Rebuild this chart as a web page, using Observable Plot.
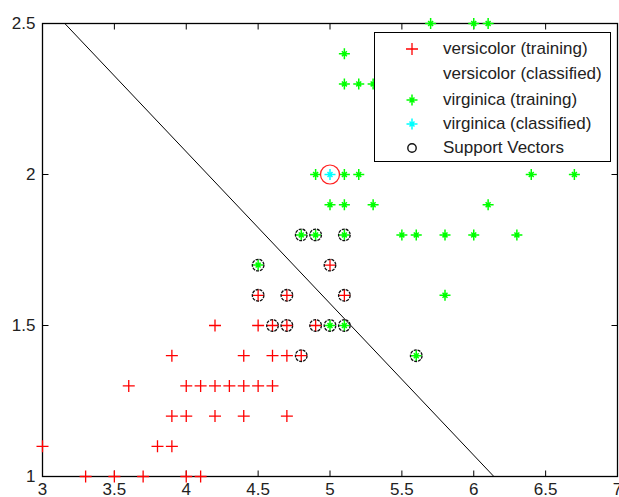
<!DOCTYPE html>
<html>
<head>
<meta charset="utf-8">
<script src="https://cdn.jsdelivr.net/npm/d3@7"></script>
<script src="https://cdn.jsdelivr.net/npm/@observablehq/plot@0.6"></script>
<style>
  html, body { margin: 0; padding: 0; background: #fff; }
  #wrap { position: relative; width: 619px; height: 497px; overflow: hidden; }
  #legend {
    position: absolute; left: 374px; top: 32px; width: 235px; height: 128px;
    background: #fff; border: 1px solid #000;
    font-family: "Liberation Sans", Arial, sans-serif; font-size: 17px; color: #222;
  }
  .row { position: absolute; left: 0; height: 24px; line-height: 24px; white-space: nowrap; }
  .row svg { position: absolute; left: 27px; top: 2px; }
  .row span { position: absolute; left: 68px; top: 0; }
</style>
</head>
<body>
<div id="wrap"></div>
<script>
// ---- data ----
const versicolorX = [3.0, 3.3, 3.5, 3.7, 4.0, 4.1, 3.8, 3.9, 3.9, 4.0, 4.2, 4.4, 4.7, 3.6, 4.0, 4.1, 4.2, 4.3, 4.4, 4.5, 4.6, 3.9, 4.4, 4.6, 4.7, 4.8, 4.2, 4.5, 4.6, 4.7, 4.9, 4.5, 4.7, 5.1, 5.0];
const versicolorY = [1.1, 1.0, 1.0, 1.0, 1.0, 1.0, 1.1, 1.1, 1.2, 1.2, 1.2, 1.2, 1.2, 1.3, 1.3, 1.3, 1.3, 1.3, 1.3, 1.3, 1.3, 1.4, 1.4, 1.4, 1.4, 1.4, 1.5, 1.5, 1.5, 1.5, 1.5, 1.6, 1.6, 1.6, 1.7];

const virginicaX = [5.7, 6.0, 6.1, 5.1, 5.1, 5.2, 5.3, 4.9, 5.1, 5.2, 6.4, 6.7, 5.0, 5.1, 5.3, 6.1, 4.8, 4.9, 5.1, 5.5, 5.6, 5.8, 6.0, 6.3, 4.5, 5.8, 5.0, 5.1, 5.6];
const virginicaY = [2.5, 2.5, 2.5, 2.4, 2.3, 2.3, 2.3, 2.0, 2.0, 2.0, 2.0, 2.0, 1.9, 1.9, 1.9, 1.9, 1.8, 1.8, 1.8, 1.8, 1.8, 1.8, 1.8, 1.8, 1.7, 1.6, 1.5, 1.5, 1.4];

const classifiedX = [5.0];
const classifiedY = [2.0];

const supportX = [4.5, 4.7, 5.0, 5.1, 4.6, 4.7, 4.9, 4.8, 4.8, 4.9, 5.1, 4.5, 5.0, 5.1, 5.6];
const supportY = [1.6, 1.6, 1.7, 1.6, 1.5, 1.5, 1.5, 1.4, 1.8, 1.8, 1.8, 1.7, 1.5, 1.5, 1.4];

const boundaryX = [3.155, 6.14];
const boundaryY = [2.5, 1.0];

const xTicks = [3, 3.5, 4, 4.5, 5, 5.5, 6, 6.5, 7];
const yTicks = [1, 1.5, 2, 2.5];
const xTickLabels = ["3", "3.5", "4", "4.5", "5", "5.5", "6", "6.5", "7"];
const yTickLabels = ["1", "1.5", "2", "2.5"];

const legendLabels = ["versicolor (training)", "versicolor (classified)", "virginica (training)", "virginica (classified)", "Support Vectors"];

// ---- build tables ----
const zipXY = (xs, ys) => xs.map((x, i) => ({x, y: ys[i]}));
const versicolor = zipXY(versicolorX, versicolorY);
const virginica = zipXY(virginicaX, virginicaY);
const classified = zipXY(classifiedX, classifiedY);
const support = zipXY(supportX, supportY);
const boundary = zipXY(boundaryX, boundaryY);

// custom MATLAB-like markers
const rOf = (size) => Math.sqrt(size / Math.PI);
const plusSymbol = {
  draw(c, size) {
    const r = rOf(size);
    c.moveTo(-r, 0); c.lineTo(r, 0);
    c.moveTo(0, -r); c.lineTo(0, r);
  }
};
const starSymbol = {
  draw(c, size) {
    const r = rOf(size);
    const d = r * 0.45;
    c.moveTo(-r, 0); c.lineTo(r, 0);
    c.moveTo(0, -r); c.lineTo(0, r);
    c.moveTo(-d, -d); c.lineTo(d, d);
    c.moveTo(-d, d); c.lineTo(d, -d);
  }
};
// one-sided tick marks (inward ticks)
const tickUp = {draw(c, size) { c.moveTo(0, 0); c.lineTo(0, -rOf(size)); }};
const tickDown = {draw(c, size) { c.moveTo(0, 0); c.lineTo(0, rOf(size)); }};
const tickRight = {draw(c, size) { c.moveTo(0, 0); c.lineTo(rOf(size), 0); }};
const tickLeft = {draw(c, size) { c.moveTo(0, 0); c.lineTo(-rOf(size), 0); }};

const font = "Liberation Sans, Arial, sans-serif";

const chart = Plot.plot({
  width: 619,
  height: 497,
  marginLeft: 42,
  marginRight: 2,
  marginTop: 23,
  marginBottom: 21,
  style: {fontFamily: font, fontSize: "17px", color: "#222", background: "#fff", overflow: "visible"},
  x: {domain: [3, 7], axis: null},
  y: {domain: [1, 2.5], axis: null},
  marks: [
    Plot.frame({stroke: "#000", strokeWidth: 1.3}),
    // inward ticks
    Plot.dot(xTicks, {x: d => d, y: 1, symbol: tickUp, r: 6, fill: "none", stroke: "#000", strokeWidth: 1}),
    Plot.dot(xTicks, {x: d => d, y: 2.5, symbol: tickDown, r: 6, fill: "none", stroke: "#000", strokeWidth: 1}),
    Plot.dot(yTicks, {x: 3, y: d => d, symbol: tickRight, r: 6, fill: "none", stroke: "#000", strokeWidth: 1}),
    Plot.dot(yTicks, {x: 7, y: d => d, symbol: tickLeft, r: 6, fill: "none", stroke: "#000", strokeWidth: 1}),
    // tick labels
    Plot.text(xTicks, {x: d => d, y: 1, text: (d, i) => xTickLabels[i], dy: 13, lineAnchor: "middle", fill: "#222", fontSize: 17, fontFamily: font}),
    Plot.text(yTicks, {x: 3, y: d => d, text: (d, i) => yTickLabels[i], dx: -7, textAnchor: "end", fill: "#222", fontSize: 17, fontFamily: font}),
    // decision boundary
    Plot.line(boundary, {x: "x", y: "y", stroke: "#000", strokeWidth: 1}),
    // training data
    Plot.dot(versicolor, {x: "x", y: "y", symbol: plusSymbol, r: 6, fill: "none", stroke: "#ff0000", strokeWidth: 1.3}),
    Plot.dot(virginica, {x: "x", y: "y", symbol: starSymbol, r: 5.5, fill: "none", stroke: "#00ff00", strokeWidth: 1.5}),
    // classified
    Plot.dot(classified, {x: "x", y: "y", symbol: starSymbol, r: 5.5, fill: "none", stroke: "#00ffff", strokeWidth: 1.5}),
    // support vectors
    Plot.dot(support, {x: "x", y: "y", r: 5.8, fill: "none", stroke: "#111", strokeWidth: 1.3, strokeDasharray: "3,1"}),
    // highlight of classified point
    Plot.dot(classified, {x: "x", y: "y", r: 9.5, fill: "none", stroke: "#ff2020", strokeWidth: 1.2})
  ]
});

const wrap = document.getElementById("wrap");
wrap.appendChild(chart);

// ---- legend ----
const legend = document.createElement("div");
legend.id = "legend";
const icons = [
  `<svg width="20" height="20"><path d="M4,10H16M10,4V16" stroke="#ff0000" stroke-width="1.3" fill="none"/></svg>`,
  `<svg width="20" height="20"></svg>`,
  `<svg width="20" height="20"><path d="M4.5,10H15.5M10,4.5V15.5M7.5,7.5L12.5,12.5M7.5,12.5L12.5,7.5" stroke="#00ff00" stroke-width="1.5" fill="none"/></svg>`,
  `<svg width="20" height="20"><path d="M4.5,10H15.5M10,4.5V15.5M7.5,7.5L12.5,12.5M7.5,12.5L12.5,7.5" stroke="#00ffff" stroke-width="1.5" fill="none"/></svg>`,
  `<svg width="20" height="20"><circle cx="10" cy="10" r="4.2" stroke="#111" stroke-width="1.4" fill="none"/></svg>`
];
const rowTops = [4, 28.5, 54.5, 78.5, 102.5];
legendLabels.forEach((label, i) => {
  const row = document.createElement("div");
  row.className = "row";
  row.style.top = rowTops[i] + "px";
  row.innerHTML = icons[i] + `<span>${label}</span>`;
  legend.appendChild(row);
});
wrap.appendChild(legend);
</script>
</body>
</html>
